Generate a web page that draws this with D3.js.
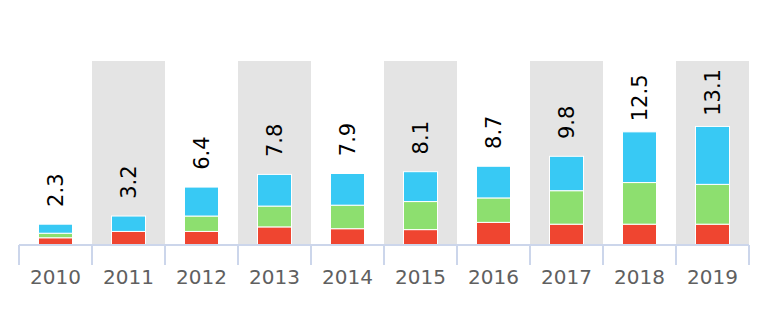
<!DOCTYPE html>
<html>
<head>
<meta charset="utf-8">
<script src="https://cdn.jsdelivr.net/npm/d3@7"></script>
<style>
    body { margin: 0; background: #fff; }
    #chart { width: 768px; height: 314px; }
</style>
</head>
<body>
<div id="chart"></div>
<script>
// Data
const years = ['2010', '2011', '2012', '2013', '2014', '2015', '2016', '2017', '2018', '2019'];
const redValues = [0.8, 1.5, 1.5, 2.0, 1.8, 1.7, 2.5, 2.3, 2.3, 2.3];
const greenValues = [0.5, 0, 1.7, 2.3, 2.6, 3.1, 2.7, 3.7, 4.6, 4.4];
const blueValues = [1.0, 1.7, 3.2, 3.5, 3.5, 3.3, 3.5, 3.8, 5.6, 6.4];
const seriesNames = ['red', 'green', 'blue'];
const seriesColors = ['#ef4530', '#8ddf6f', '#38c9f4'];

const container = document.getElementById('chart');
const width = 768;
const height = 314;
const margin = { top: 61, right: 19, bottom: 69, left: 19 };
const innerW = width - margin.left - margin.right;
const innerH = height - margin.top - margin.bottom;

const rows = years.map((year, i) => ({
    year,
    red: redValues[i],
    green: greenValues[i],
    blue: blueValues[i]
}));

const stacked = d3.stack().keys(seriesNames)(rows);

const svg = d3.select(container)
    .append('svg')
    .attr('width', width)
    .attr('height', height)
    .append('g')
    .attr('transform', `translate(${margin.left},${margin.top})`);

const x = d3.scaleBand()
    .domain(years)
    .range([0, innerW])
    .padding(0);

const y = d3.scaleLinear()
    .domain([0, 20.33])
    .range([innerH, 0]);

// Alternating background bands
svg.selectAll('.band')
    .data(years.filter((d, i) => i % 2 === 1))
    .enter()
    .append('rect')
    .attr('class', 'band')
    .attr('x', d => x(d))
    .attr('y', 0)
    .attr('width', x.bandwidth())
    .attr('height', innerH)
    .style('fill', '#e4e4e4');

// Stacked bars
const barW = 34;
svg.selectAll('.series')
    .data(stacked)
    .enter()
    .append('g')
    .attr('class', 'series')
    .style('fill', (d, i) => seriesColors[i])
    .selectAll('rect')
    .data(d => d.filter(p => p[1] - p[0] > 0))
    .enter()
    .append('rect')
    .attr('x', d => x(d.data.year) + x.bandwidth() / 2 - barW / 2)
    .attr('y', d => y(d[1]))
    .attr('width', barW)
    .attr('height', d => y(d[0]) - y(d[1]))
    .style('stroke', '#fff')
    .style('stroke-width', 1);

// Axis line, labels and boundary ticks
const axisG = svg.append('g')
    .attr('transform', `translate(0,${innerH})`)
    .call(d3.axisBottom(x).tickSize(0).tickPadding(25));

axisG.select('.domain').remove();
axisG.selectAll('text')
    .style('fill', '#606060')
    .style('font-family', '"DejaVu Sans", sans-serif')
    .style('font-size', '20px');

axisG.append('line')
    .attr('x1', 0)
    .attr('x2', innerW)
    .attr('y1', 0)
    .attr('y2', 0)
    .style('stroke', '#ccd6eb')
    .style('stroke-width', 2);

axisG.selectAll('.bound')
    .data(years.concat(['end']))
    .enter()
    .append('line')
    .attr('class', 'bound')
    .attr('x1', d => d === 'end' ? innerW : x(d))
    .attr('x2', d => d === 'end' ? innerW : x(d))
    .attr('y1', 0)
    .attr('y2', 20)
    .style('stroke', '#ccd6eb')
    .style('stroke-width', 2);

// Total labels, rotated
svg.selectAll('.total')
    .data(rows)
    .enter()
    .append('text')
    .attr('class', 'total')
    .attr('transform', d => {
        const total = d.red + d.green + d.blue;
        return `translate(${x(d.year) + x.bandwidth() / 2},${y(total) - 34}) rotate(-90)`;
    })
    .attr('text-anchor', 'middle')
    .attr('dy', '0.35em')
    .style('fill', '#000')
    .style('font-family', '"DejaVu Sans", sans-serif')
    .style('font-size', '21px')
    .text(d => (d.red + d.green + d.blue).toFixed(1));
</script>
</body>
</html>
